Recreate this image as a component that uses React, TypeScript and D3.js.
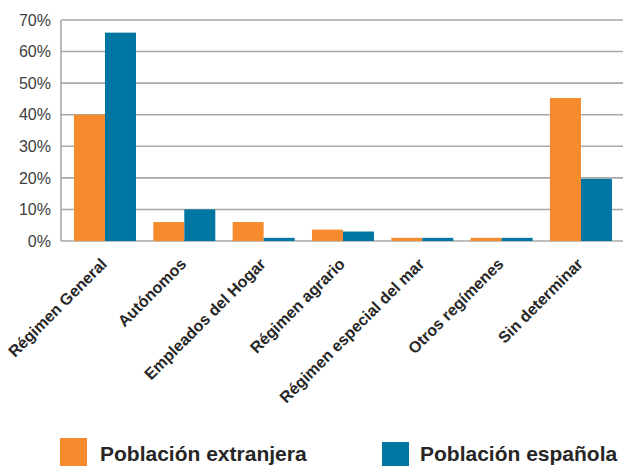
import React from "react";
import * as d3 from "d3";

const categories = [
  "Régimen General",
  "Autónomos",
  "Empleados del Hogar",
  "Régimen agrario",
  "Régimen especial del mar",
  "Otros regímenes",
  "Sin determinar",
];
const seriesNames = ["Población extranjera", "Población española"];
const extranjera = [40, 6, 6, 3.6, 1, 1, 45.3];
const espanola = [66, 10, 1, 3, 1, 1, 19.7];
const yTicks = [0, 10, 20, 30, 40, 50, 60, 70];
const colors = ["#F58B2C", "#0076A3"];

const W = 623;
const H = 466;

export default function App() {
  const plotLeft = 61;
  const y = d3.scaleLinear().domain([0, 70]).range([241, 20]);
  const x0 = d3
    .scaleBand<string>()
    .domain(categories)
    .range([65.3, 65.3 + 7 * 79.33])
    .paddingInner(0)
    .paddingOuter(0);
  const x1 = d3
    .scaleBand<string>()
    .domain(seriesNames)
    .range([8.67, 70.67]);
  const series = [extranjera, espanola];
  const font = "'Liberation Sans', Arial, sans-serif";

  return (
    <svg
      width={W}
      height={H}
      style={{ position: "absolute", left: 0, top: 0, background: "#fff" }}
      fontFamily={font}
    >
      {yTicks.map((t) => (
        <g key={t}>
          <line
            x1={plotLeft}
            x2={W}
            y1={y(t)}
            y2={y(t)}
            stroke="#A9A9A9"
            strokeWidth={1.6}
          />
          <text
            x={51}
            y={y(t)}
            dy="0.36em"
            textAnchor="end"
            fontSize={16}
            fill="#404040"
          >
            {t}%
          </text>
        </g>
      ))}
      <line
        x1={plotLeft}
        x2={plotLeft}
        y1={y(70)}
        y2={y(0)}
        stroke="#A9A9A9"
        strokeWidth={1.6}
      />
      {categories.map((c, i) => (
        <g key={c} transform={`translate(${x0(c)},0)`}>
          {seriesNames.map((s, j) => (
            <rect
              key={s}
              x={x1(s)}
              width={x1.bandwidth()}
              y={y(series[j][i])}
              height={y(0) - y(series[j][i])}
              fill={colors[j]}
            />
          ))}
        </g>
      ))}
      {categories.map((c) => {
        const cx = (x0(c) as number) + x0.bandwidth() / 2;
        return (
          <text
            key={c}
            transform={`translate(${cx + 3},${265}) rotate(-45)`}
            textAnchor="end"
            fontSize={16}
            fontWeight="bold"
            fill="#262626"
          >
            {c}
          </text>
        );
      })}
      {seriesNames.map((s, j) => {
        const lx = [60, 382][j];
        const ly = [438, 442][j];
        const tx = [100, 420][j];
        return (
          <g key={s}>
            <rect x={lx} y={ly} width={27} height={30} fill={colors[j]} />
            <text
              x={tx}
              y={461}
              fontSize={21}
              fontWeight="bold"
              fill="#262626"
            >
              {s}
            </text>
          </g>
        );
      })}
    </svg>
  );
}
